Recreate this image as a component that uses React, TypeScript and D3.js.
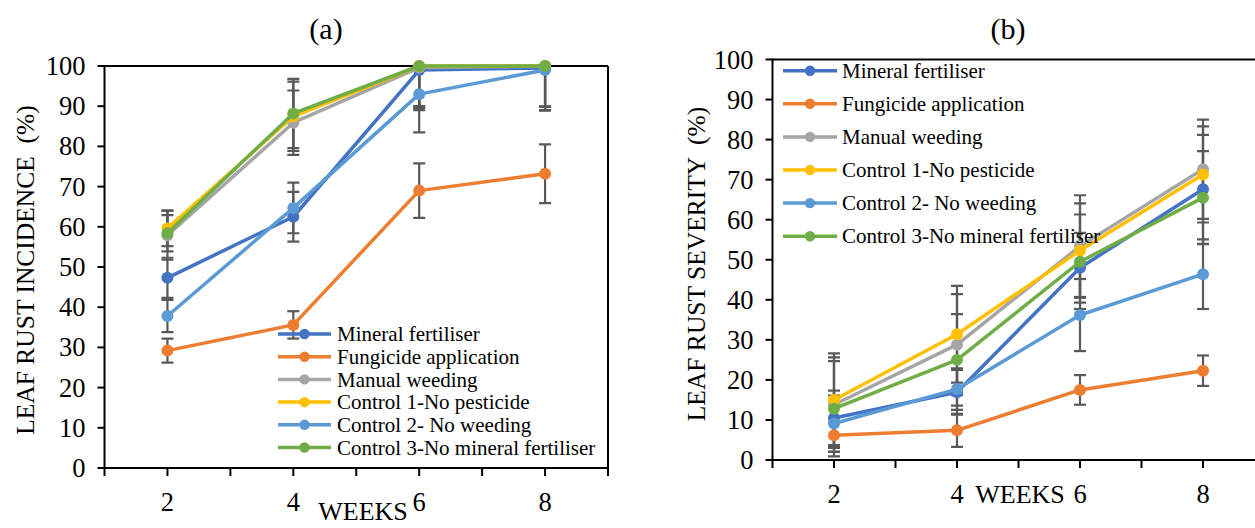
import React from "react";
import * as d3 from "d3";

// sampling weeks and axis ticks
const weeks = [2, 4, 6, 8];
const xTicks = [1, 2, 3, 4, 5, 6, 7, 8, 9];
const yTicks = [0, 10, 20, 30, 40, 50, 60, 70, 80, 90, 100];

const seriesNames = [
  "Mineral fertiliser",
  "Fungicide application",
  "Manual weeding",
  "Control 1-No pesticide",
  "Control 2- No weeding",
  "Control 3-No mineral fertiliser",
];
const seriesColors = ["#4472C4", "#ED7D31", "#A5A5A5", "#FFC000", "#5B9BD5", "#70AD47"];

// (a) leaf rust incidence (%)
const mineralInc = [47.3, 62.5, 99.0, 99.5];
const fungicideInc = [29.2, 35.6, 69.0, 73.2];
const manualInc = [57.9, 85.9, 99.6, 100];
const control1Inc = [59.6, 87.5, 100, 100];
const control2Inc = [37.8, 64.7, 93.0, 99.0];
const control3Inc = [58.4, 88.2, 100, 100];

const mineralIncErr = [5.0, 6.2, 10.0, 10.5];
const fungicideIncErr = [3.0, 3.4, 6.8, 7.3];
const manualIncErr = [6.1, 8.0, 10.0, 10.1];
const control1IncErr = [4.4, 8.6, 10.0, 10.1];
const control2IncErr = [4.0, 6.3, 9.5, 10.1];
const control3IncErr = [4.5, 8.6, 10.0, 10.1];

// (b) leaf rust severity (%)
const mineralSev = [10.5, 16.9, 48.0, 67.6];
const fungicideSev = [6.2, 7.4, 17.5, 22.3];
const manualSev = [13.8, 28.8, 53.4, 72.6];
const control1Sev = [15.0, 31.4, 52.3, 71.3];
const control2Sev = [9.1, 17.7, 36.2, 46.4];
const control3Sev = [12.8, 25.0, 49.5, 65.5];

const mineralSevErr = [6.8, 5.6, 8.7, 13.6];
const fungicideSevErr = [3.2, 4.1, 3.7, 3.8];
const manualSevErr = [11.8, 12.6, 12.7, 12.4];
const control1SevErr = [11.6, 12.1, 11.8, 12.0];
const control2SevErr = [7.0, 5.2, 9.0, 8.7];
const control3SevErr = [11.9, 11.4, 11.8, 11.6];

const FONT = "'Liberation Serif', 'Times New Roman', serif";
const ERR = "#595959";

type Box = { left: number; right: number; top: number; bottom: number };
type Legend = { y0: number; dy: number; x1: number; x2: number; tx: number };

const Panel = ({ id, box, values, errors, title, titleX, yTitle, yTitleX, yTitleY, legend, weeksX, weeksY }: {
  id: string; box: Box; values: number[][]; errors: number[][]; title: string; titleX: number;
  yTitle: string; yTitleX: number; yTitleY: number; legend: Legend; weeksX: number; weeksY: number;
}) => {
  const x = d3.scaleLinear().domain([1, 9]).range([box.left, box.right]);
  const y = d3.scaleLinear().domain([0, 100]).range([box.bottom, box.top]);
  const line = d3.line<number>().x((_, i) => x(weeks[i])).y((d) => y(d));

  return (
    <g fontFamily={FONT} fill="#000">
      <defs>
        <clipPath id={id}>
          <rect x={box.left} y={box.top} width={box.right - box.left} height={box.bottom - box.top} />
        </clipPath>
      </defs>
      <text x={titleX} y={39} fontSize={30} textAnchor="middle">{title}</text>
      <text transform={`translate(${yTitleX},${yTitleY}) rotate(-90)`} fontSize={25.5}
        textAnchor="middle" style={{ whiteSpace: "pre" }}>{yTitle}</text>

      {/* frame */}
      <line x1={box.left} x2={box.right} y1={box.top} y2={box.top} stroke="#000" strokeWidth={2} />
      <line x1={box.right} x2={box.right} y1={box.top} y2={box.bottom} stroke="#000" strokeWidth={2} />

      {yTicks.map((t) => (
        <g key={t}>
          <line x1={box.left - 7} x2={box.left} y1={y(t)} y2={y(t)} stroke="#000" strokeWidth={2} />
          <text x={box.left - 19} y={y(t)} dy="0.34em" textAnchor="end" fontSize={26.5}>{t}</text>
        </g>
      ))}
      {xTicks.map((t) => (
        <line key={t} x1={x(t)} x2={x(t)} y1={box.bottom} y2={box.bottom + 8} stroke="#000" strokeWidth={2} />
      ))}
      {weeks.map((w) => (
        <text key={w} x={x(w)} y={box.bottom + 34} dy="0.34em" textAnchor="middle" fontSize={26.5}>{w}</text>
      ))}
      <text x={weeksX} y={weeksY} textAnchor="middle" fontSize={26}>WEEKS</text>
      <line x1={box.left} x2={box.left} y1={box.top - 1} y2={box.bottom + 1} stroke="#000" strokeWidth={2} />
      <line x1={box.left - 1} x2={box.right + 1} y1={box.bottom} y2={box.bottom} stroke="#000" strokeWidth={2} />

      {/* error bars */}
      <g clipPath={`url(#${id})`} stroke={ERR} strokeWidth={2.2}>
        {values.map((vals, s) =>
          vals.map((v, i) => {
            const cx = x(weeks[i]);
            const hi = y(v + errors[s][i]);
            const lo = y(v - errors[s][i]);
            return (
              <g key={`${s}-${i}`}>
                <line x1={cx} x2={cx} y1={hi} y2={lo} />
                <line x1={cx - 6} x2={cx + 6} y1={hi} y2={hi} />
                <line x1={cx - 6} x2={cx + 6} y1={lo} y2={lo} />
              </g>
            );
          })
        )}
      </g>

      {values.map((vals, s) => (
        <g key={s}>
          <path d={line(vals) ?? ""} fill="none" stroke={seriesColors[s]} strokeWidth={3.5} strokeLinejoin="round" />
          {vals.map((v, i) => (
            <circle key={i} cx={x(weeks[i])} cy={y(v)} r={6} fill={seriesColors[s]} />
          ))}
        </g>
      ))}

      {seriesNames.map((name, s) => {
        const ly = legend.y0 + s * legend.dy;
        return (
          <g key={name}>
            <line x1={legend.x1} x2={legend.x2} y1={ly} y2={ly} stroke={seriesColors[s]} strokeWidth={3.5} />
            <circle cx={(legend.x1 + legend.x2) / 2} cy={ly} r={5.2} fill={seriesColors[s]} />
            <text x={legend.tx} y={ly} dy="0.34em" fontSize={21}>{name}</text>
          </g>
        );
      })}
    </g>
  );
};

const App = () => {
  const incidence = [mineralInc, fungicideInc, manualInc, control1Inc, control2Inc, control3Inc];
  const incidenceErr = [mineralIncErr, fungicideIncErr, manualIncErr, control1IncErr, control2IncErr, control3IncErr];
  const severity = [mineralSev, fungicideSev, manualSev, control1Sev, control2Sev, control3Sev];
  const severityErr = [mineralSevErr, fungicideSevErr, manualSevErr, control1SevErr, control2SevErr, control3SevErr];

  return (
    <svg width={1255} height={528} style={{ position: "absolute", left: 0, top: 0, background: "#fff" }}>
      <Panel
        id="clipA"
        box={{ left: 104.5, right: 608, top: 66, bottom: 468 }}
        values={incidence}
        errors={incidenceErr}
        title="(a)"
        titleX={326}
        yTitle="LEAF RUST INCIDENCE  (%)"
        yTitleX={34}
        yTitleY={270}
        legend={{ y0: 334, dy: 22.7, x1: 278, x2: 331, tx: 337 }}
        weeksX={363}
        weeksY={520}
      />
      <Panel
        id="clipB"
        box={{ left: 772.5, right: 1264.5, top: 59.5, bottom: 460 }}
        values={severity}
        errors={severityErr}
        title="(b)"
        titleX={1008}
        yTitle="LEAF RUST SEVERITY  (%)"
        yTitleX={705}
        yTitleY={264}
        legend={{ y0: 70.7, dy: 33.1, x1: 783, x2: 837, tx: 842 }}
        weeksX={1020}
        weeksY={503}
      />
    </svg>
  );
};

export default App;
